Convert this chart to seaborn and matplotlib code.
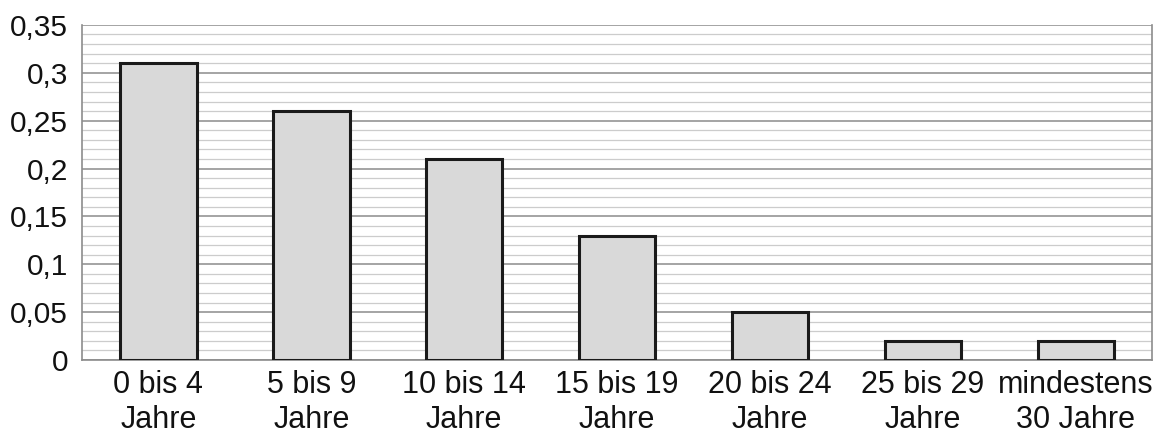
import numpy as np
import pandas as pd
import matplotlib
matplotlib.use("Agg")
import matplotlib.pyplot as plt
import seaborn as sns
from matplotlib.ticker import MultipleLocator, FixedLocator, FixedFormatter

# data
categories = ["0 bis 4\nJahre", "5 bis 9\nJahre", "10 bis 14\nJahre", "15 bis 19\nJahre",
              "20 bis 24\nJahre", "25 bis 29\nJahre", "mindestens\n30 Jahre"]
shares = [0.31, 0.26, 0.21, 0.13, 0.05, 0.02, 0.02]
y_ticks = [0, 0.05, 0.1, 0.15, 0.2, 0.25, 0.3, 0.35]
y_tick_labels = ["0", "0,05", "0,1", "0,15", "0,2", "0,25", "0,3", "0,35"]

sns.set_style("white")
plt.rcParams["font.family"] = ["Liberation Sans", "DejaVu Sans"]

df = pd.DataFrame({"Alter": categories, "Anteil": shares})

fig = plt.figure(figsize=(11.7, 4.45), dpi=100)
ax = fig.add_axes([0.070, 0.191, 0.915, 0.753])

sns.barplot(data=df, x="Alter", y="Anteil", color="#d9d9d9", edgecolor="#1a1a1a",
            linewidth=2.2, width=0.5, saturation=1, ax=ax, zorder=3)

ax.set_ylim(0, 0.35)
ax.set_xlim(-0.5, len(categories) - 0.5)
ax.yaxis.set_major_locator(FixedLocator(y_ticks))
ax.yaxis.set_major_formatter(FixedFormatter(y_tick_labels))
ax.yaxis.set_minor_locator(MultipleLocator(0.01))

ax.grid(axis="y", which="major", color="#959595", linewidth=1.2, zorder=0)
ax.grid(axis="y", which="minor", color="#cccccc", linewidth=0.9, zorder=0)
ax.set_axisbelow(True)

for side in ["left", "right", "bottom"]:
    ax.spines[side].set_color("#8c8c8c")
    ax.spines[side].set_linewidth(1.2)
ax.spines["top"].set_visible(False)

ax.tick_params(axis="y", which="major", length=6, width=1.2, color="#8c8c8c",
               labelsize=21.5, pad=4)
ax.tick_params(axis="y", which="minor", length=0)
ax.tick_params(axis="x", length=0, labelsize=22, pad=7, labelcolor="#111111")
ax.tick_params(axis="y", labelcolor="#111111")
for lbl in ax.get_xticklabels():
    lbl.set_linespacing(1.25)
ax.set_xlabel("")
ax.set_ylabel("")

fig.savefig("out.png", dpi=100, facecolor="white")
